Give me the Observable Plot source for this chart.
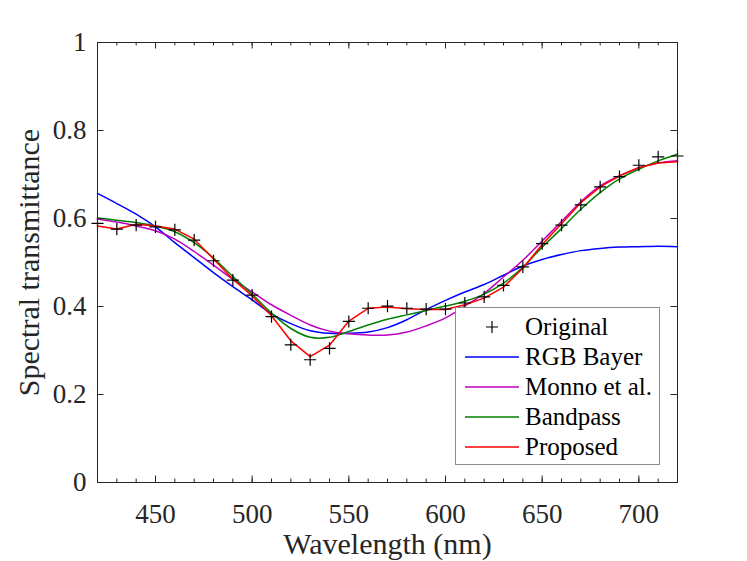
<!DOCTYPE html>
<html>
<head>
<meta charset="utf-8">
<script src="https://cdn.jsdelivr.net/npm/d3@7"></script>
<script src="https://cdn.jsdelivr.net/npm/@observablehq/plot@0.6"></script>
<style>
  html, body { margin: 0; padding: 0; background: white; }
  #wrap { position: relative; width: 747px; height: 561px; }
  #legend { position: absolute; left: 455px; top: 307px; width: 205px; height: 158px;
            box-sizing: border-box; border: 1px solid #8c8c8c; background: white; }
  #legend svg { display: block; }
</style>
</head>
<body>
<div id="wrap"></div>
<script>
// ---- data ----
const wavelengths = [420,430,440,450,460,470,480,490,500,510,520,530,540,550,560,570,580,590,600,610,620,630,640,650,660,670,680,690,700,710,720];
const original = [0.589,0.576,0.585,0.581,0.574,0.551,0.504,0.460,0.426,0.377,0.313,0.279,0.305,0.366,0.396,0.401,0.396,0.394,0.394,0.408,0.422,0.448,0.490,0.543,0.585,0.631,0.672,0.695,0.721,0.740,0.742];
const rgbBayer = [0.657,0.634,0.610,0.581,0.545,0.511,0.477,0.445,0.415,0.383,0.361,0.345,0.339,0.339,0.342,0.352,0.370,0.393,0.414,0.433,0.450,0.471,0.492,0.507,0.518,0.527,0.532,0.535,0.536,0.537,0.536];
const monno = [0.599,0.592,0.583,0.572,0.553,0.525,0.494,0.462,0.433,0.404,0.380,0.358,0.344,0.338,0.335,0.335,0.342,0.356,0.374,0.401,0.430,0.467,0.505,0.549,0.593,0.638,0.674,0.697,0.715,0.726,0.731];
const bandpass = [0.601,0.596,0.591,0.583,0.570,0.545,0.510,0.468,0.428,0.385,0.350,0.330,0.330,0.343,0.358,0.371,0.381,0.391,0.401,0.412,0.428,0.453,0.489,0.535,0.577,0.621,0.659,0.690,0.712,0.731,0.746];
const proposed = [0.583,0.576,0.587,0.583,0.576,0.553,0.508,0.462,0.424,0.379,0.322,0.286,0.312,0.367,0.396,0.399,0.395,0.393,0.393,0.404,0.419,0.444,0.487,0.541,0.588,0.636,0.672,0.697,0.716,0.726,0.729];

const seriesNames = ["RGB Bayer","Monno et al.","Bandpass","Proposed"];
const seriesColors = ["#0000ff","#bf00bf","#008000","#ff0000"];
const seriesCurves = ["catmull-rom","catmull-rom","catmull-rom","linear"];
const seriesValues = [rgbBayer, monno, bandpass, proposed];

const xMajorTicks = [450,500,550,600,650,700];
const xMinorTicks = [430,440,450,460,470,480,490,500,510,520,530,540,550,560,570,580,590,600,610,620,630,640,650,660,670,680,690,700,710];
const yTicks = [0,0.2,0.4,0.6,0.8,1];
const yTickLabels = ["0","0.2","0.4","0.6","0.8","1"];

// ---- build ----
const origRows = wavelengths.map((w,i) => ({w, v: original[i]}));
const lineMarks = seriesValues.map((vals, k) =>
  Plot.line(wavelengths.map((w,i) => ({w, v: vals[i]})),
    {x: "w", y: "v", stroke: seriesColors[k], strokeWidth: 1.5, curve: seriesCurves[k]})
);

const ML = 97, MR = 70, MT = 42, MB = 79, W = 747, H = 561;
const PW = W - ML - MR, PH = H - MT - MB;
const serif = "'Liberation Serif', 'Times New Roman', serif";

const chart = Plot.plot({
  width: W, height: H,
  marginLeft: ML, marginRight: MR, marginTop: MT, marginBottom: MB,
  x: {domain: [420, 720]},
  y: {domain: [0, 1]},
  style: {fontFamily: serif, fontSize: "27px", color: "#262626", background: "white"},
  marks: [
    ...lineMarks,
    Plot.dot(origRows, {x: "w", y: "v", symbol: "plus", r: 4, stroke: "black", strokeWidth: 1.2}),
    // inward ticks
    Plot.ruleX(xMinorTicks, {x: d => d, insetTop: PH - 3.5, stroke: "#262626", strokeWidth: 1}),
    Plot.ruleX(xMinorTicks, {x: d => d, insetBottom: PH - 3.5, stroke: "#262626", strokeWidth: 1}),
    Plot.ruleX(xMajorTicks, {x: d => d, insetTop: PH - 6.5, stroke: "#262626", strokeWidth: 1}),
    Plot.ruleX(xMajorTicks, {x: d => d, insetBottom: PH - 6.5, stroke: "#262626", strokeWidth: 1}),
    Plot.ruleY(yTicks, {y: d => d, insetRight: PW - 6.5, stroke: "#262626", strokeWidth: 1}),
    Plot.ruleY(yTicks, {y: d => d, insetLeft: PW - 6.5, stroke: "#262626", strokeWidth: 1}),
    Plot.frame({stroke: "#262626", strokeWidth: 1}),
    Plot.axisX({ticks: xMajorTicks, tickSize: 0, tickPadding: 21, label: null, fontSize: 27, tickFormat: d => String(d)}),
    Plot.axisY({ticks: yTicks, tickSize: 0, tickPadding: 11, label: null, fontSize: 27, tickFormat: d => yTickLabels[yTicks.indexOf(d)]}),
    Plot.text(["Wavelength (nm)"], {text: d => d, frameAnchor: "bottom", lineAnchor: "middle", textAnchor: "middle", dy: 62, fontSize: 30, fill: "#262626"}),
    Plot.text(["Spectral transmittance"], {text: d => d, frameAnchor: "left", lineAnchor: "middle", textAnchor: "middle", dx: -68, rotate: -90, fontSize: 30, fill: "#262626"})
  ]
});

const wrap = document.getElementById("wrap");
wrap.appendChild(chart);

// ---- legend ----
const legend = document.createElement("div");
legend.id = "legend";
const ns = "http://www.w3.org/2000/svg";
const lsvg = document.createElementNS(ns, "svg");
lsvg.setAttribute("width", 203);
lsvg.setAttribute("height", 156);
const entries = [{name: "Original", type: "cross", color: "black"}]
  .concat(seriesNames.map((n,k) => ({name: n, type: "line", color: seriesColors[k]})));
entries.forEach((e, i) => {
  const cy = 19 + i * 30;
  if (e.type === "line") {
    const l = document.createElementNS(ns, "line");
    l.setAttribute("x1", 9); l.setAttribute("x2", 63);
    l.setAttribute("y1", cy); l.setAttribute("y2", cy);
    l.setAttribute("stroke", e.color); l.setAttribute("stroke-width", 1.5);
    lsvg.appendChild(l);
  } else {
    const p = document.createElementNS(ns, "path");
    p.setAttribute("d", `M${36-6},${cy}H${36+6}M36,${cy-6}V${cy+6}`);
    p.setAttribute("stroke", e.color); p.setAttribute("stroke-width", 1.2);
    lsvg.appendChild(p);
  }
  const t = document.createElementNS(ns, "text");
  t.setAttribute("x", 69); t.setAttribute("y", cy + 8);
  t.setAttribute("font-family", serif);
  t.setAttribute("font-size", 25);
  t.setAttribute("fill", "black");
  t.textContent = e.name;
  lsvg.appendChild(t);
});
legend.appendChild(lsvg);
wrap.appendChild(legend);
</script>
</body>
</html>
